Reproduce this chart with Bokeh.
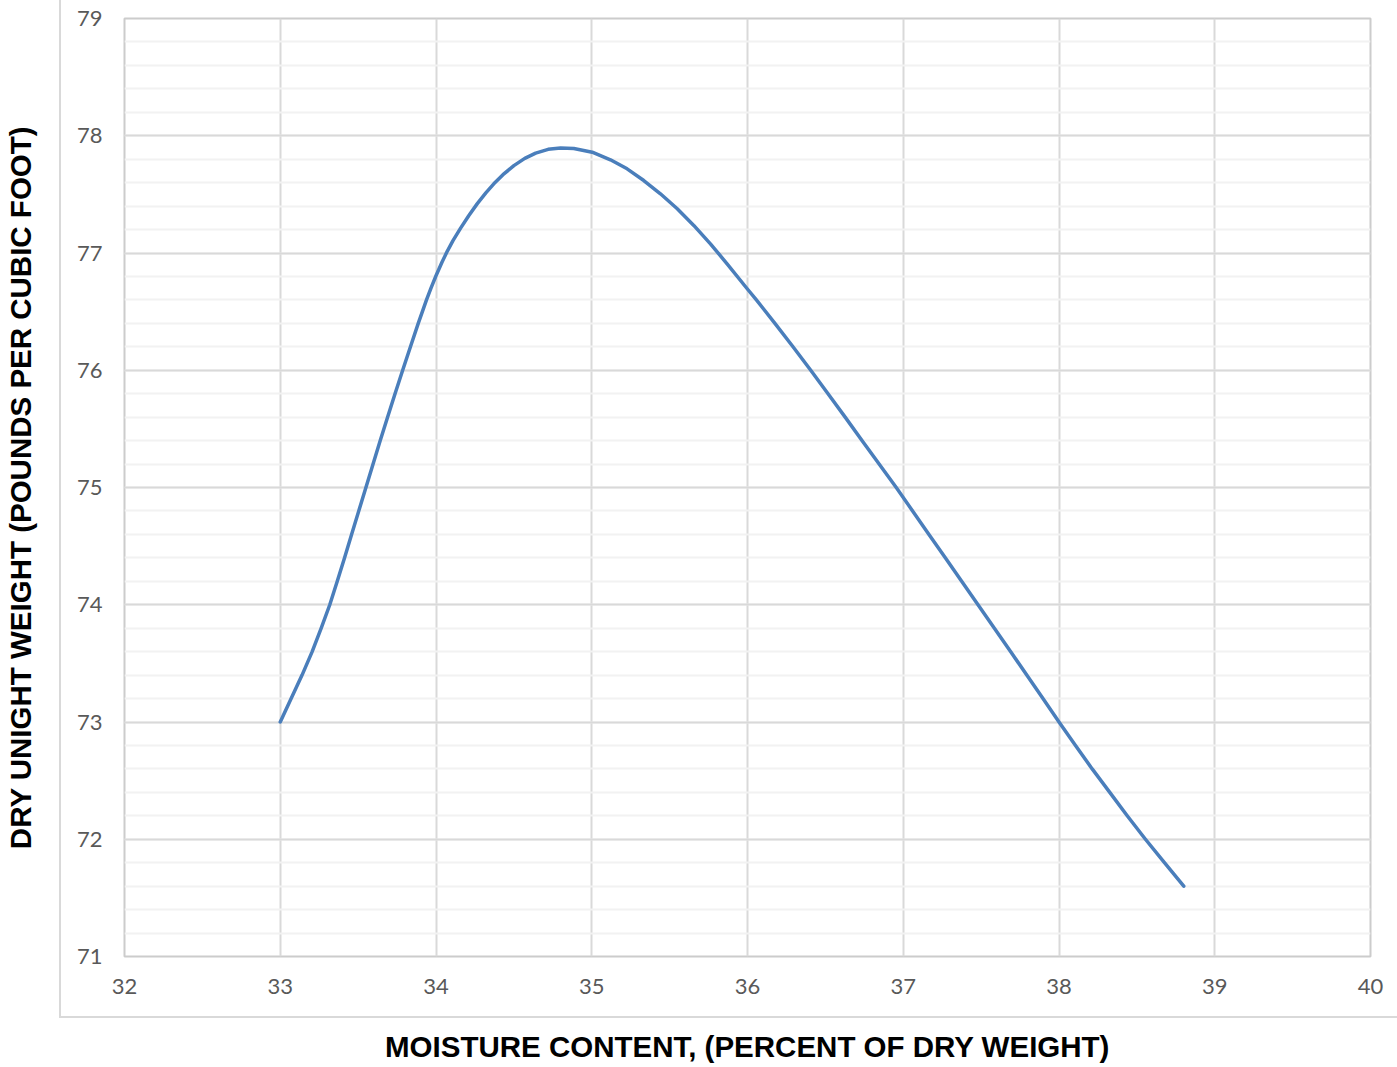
from bokeh.plotting import figure
from bokeh.models import SingleIntervalTicker, Range1d, InlineStyleSheet
from bokeh.embed import file_html
from bokeh.resources import INLINE

# Curve (moisture %, dry unit weight lb/ft^3)
moisture = [33.0, 33.07, 33.14, 33.205, 33.263, 33.318, 33.366, 33.413, 33.458, 33.504,
            33.55, 33.596, 33.642, 33.689, 33.737, 33.786, 33.836, 33.886, 33.939, 33.969,
            34.0, 34.039, 34.072, 34.109, 34.157, 34.21, 34.264, 34.32, 34.371, 34.43,
            34.5, 34.57, 34.64, 34.72, 34.8, 34.885, 35.003, 35.12, 35.227, 35.334,
            35.441, 35.549, 35.655, 35.762, 35.869, 35.998, 36.057, 36.176, 36.292, 36.406,
            36.517, 36.627, 36.735, 36.845, 36.955, 37.06, 37.165, 37.27, 37.375, 37.48,
            37.585, 37.69, 37.793, 37.897, 38.0, 38.106, 38.213, 38.326, 38.438, 38.555,
            38.677, 38.801]
dry_weight = [73.0, 73.2, 73.4, 73.6, 73.8, 74.0, 74.2, 74.4, 74.6, 74.8,
              75.0, 75.2, 75.4, 75.6, 75.8, 76.0, 76.2, 76.4, 76.6, 76.705,
              76.806, 76.923, 77.014, 77.106, 77.21, 77.318, 77.419, 77.513, 77.59, 77.668,
              77.745, 77.807, 77.852, 77.884, 77.895, 77.891, 77.86, 77.795, 77.718, 77.618,
              77.505, 77.377, 77.235, 77.078, 76.908, 76.695, 76.6, 76.4, 76.2, 76.0,
              75.8, 75.6, 75.4, 75.2, 75.0, 74.8, 74.6, 74.4, 74.2, 74.0,
              73.8, 73.6, 73.4, 73.2, 73.0, 72.8, 72.6, 72.4, 72.2, 72.0,
              71.8, 71.6]

x_range = (32, 40)
y_range = (71, 79)
x_title = "MOISTURE CONTENT, (PERCENT OF DRY WEIGHT)"
y_title = "DRY UNIGHT WEIGHT (POUNDS PER CUBIC FOOT)"

# light outer chart-area border (decoration only)
chart_area_css = InlineStyleSheet(css="""
:host::after {
  content: "";
  position: absolute;
  left: 59px;
  top: 0px;
  right: 0px;
  height: 1018px;
  border-left: 2px solid #d9d9d9;
  border-bottom: 2px solid #d9d9d9;
  pointer-events: none;
  box-sizing: border-box;
}
""")

p = figure(width=1397, height=1067, output_backend="svg", toolbar_location=None,
           x_range=Range1d(*x_range), y_range=Range1d(*y_range),
           min_border_left=124, min_border_right=27, min_border_top=18, min_border_bottom=111,
           stylesheets=[chart_area_css])

p.line(moisture, dry_weight, line_color="#4a7ebb", line_width=3.5,
       line_join="round", line_cap="round")

p.xaxis.ticker = SingleIntervalTicker(interval=1, num_minor_ticks=0)
p.yaxis.ticker = SingleIntervalTicker(interval=1, num_minor_ticks=5)

for ax in (p.xaxis[0], p.yaxis[0]):
    ax.axis_line_color = None
    ax.major_tick_line_color = None
    ax.minor_tick_line_color = None
    ax.major_tick_out = 0
    ax.major_tick_in = 0
    ax.minor_tick_out = 0
    ax.major_label_text_font = "Lato"
    ax.major_label_text_font_size = "22px"
    ax.major_label_text_color = "#595959"
    ax.axis_label_text_font = "Liberation Sans"
    ax.axis_label_text_font_style = "bold"
    ax.axis_label_text_font_size = "29.5px"
    ax.axis_label_text_color = "#000000"

p.xaxis.axis_label = x_title
p.yaxis.axis_label = y_title
p.xaxis.major_label_standoff = 22
p.yaxis.major_label_standoff = 22
p.xaxis.axis_label_standoff = 33
p.yaxis.axis_label_standoff = 37

p.xgrid.grid_line_color = "#d9d9d9"
p.xgrid.grid_line_width = 2
p.ygrid.grid_line_color = "#d9d9d9"
p.ygrid.grid_line_width = 2
p.ygrid.minor_grid_line_color = "#f2f2f2"
p.ygrid.minor_grid_line_width = 2

p.outline_line_color = "#cccccc"
p.outline_line_width = 2

open("out.html", "w").write(file_html(p, INLINE))
